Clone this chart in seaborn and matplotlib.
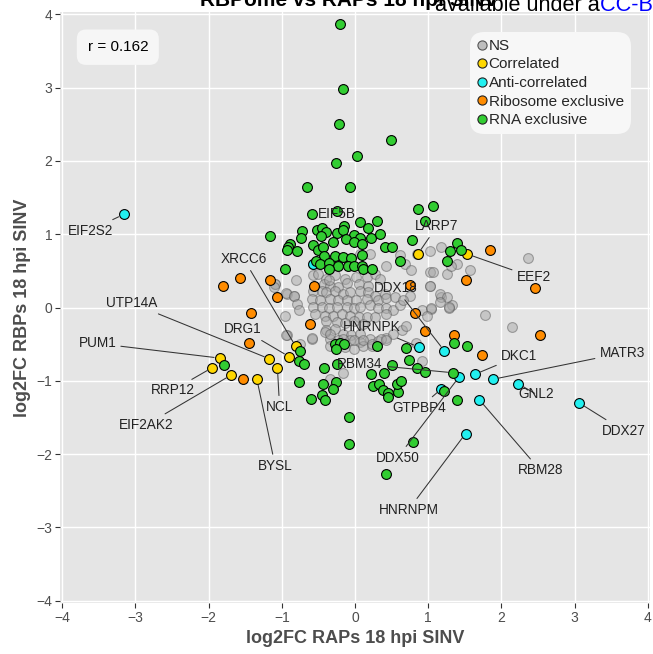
import matplotlib
matplotlib.use("Agg")
import matplotlib.pyplot as plt
import seaborn as sns
import pandas as pd
from matplotlib.lines import Line2D

# ---------------- data ----------------
categories = ["NS", "Correlated", "Anti-correlated", "Ribosome exclusive", "RNA exclusive"]
cat_colors = ["#B4B4B4", "#FFD700", "#22F0F0", "#FF8C00", "#32CD32"]

ns_x = [1.02, 0.61, 0.85,
        -0.57, -0.43, -0.25, 0.07, 0.20, 0.43, 0.68, 0.77, 1.02, 1.07, 1.39, 1.25,
        -0.57, -0.50, -0.39, -0.27, -0.14, 0.02, 0.16, 0.27, 0.34, -0.43, -0.34, -0.23, -0.11, 0.05, 0.18, -0.36,
        -0.57, -0.45, -0.39, -0.27, -0.16, -0.07, 0.07, 0.18, 0.27, 0.41, -0.59, -0.48, -0.34, -0.23, -0.11, 0.02,
        0.16, 0.32, 0.43, 0.54, 0.75, 1.02, 1.18, 1.32,
        -0.93, -0.84, -1.09, -0.57, -0.45, -0.36, -0.25, -0.11, -0.02, 0.07, 0.20, 0.32, 0.43, 0.52, 0.61, 0.66,
        1.04, 1.29,
        -0.95, -0.54, -0.41, -0.30, -0.18, -0.07, 0.05, 0.16, 0.27, -0.39, -0.25, -0.14, -0.02, 0.11, 0.43,
        -0.93, -0.59, -0.39, -0.27, -0.16, -0.05, 0.07, -0.34, -0.23, -0.07, 0.07, 0.20, 0.32, 0.43, 0.52, 0.64,
        -0.14, -0.02, 0.11, 0.23, -0.34, -0.75,
        2.37, 1.78, 2.14, 1.57, 1.17, 1.31, 1.02, 1.16, 1.25, 1.16, 1.29, 0.92, 1.04, 0.98, 0.69, 0.91, 0.84,
        -1.09, -1.11, -0.94, -0.83, -0.94, -0.80, -0.79, -0.77,
        -0.59, -0.41, -0.34, -0.16, -0.02, 0.11, 0.23, 0.36, 0.43, -0.17, -0.34]
ns_y = [0.77, 0.72, 0.73,
        0.60, 0.61, 0.62, 0.73, 0.73, 0.57, 0.60, 0.51, 0.48, 0.48, 0.60, 0.46,
        0.44, 0.46, 0.39, 0.44, 0.39, 0.41, 0.42, 0.46, 0.39, 0.32, 0.30, 0.28, 0.34, 0.32, 0.30, 0.37,
        0.23, 0.23, 0.21, 0.22, 0.19, 0.21, 0.22, 0.21, 0.16, 0.19, 0.12, 0.10, 0.12, 0.10, 0.10, 0.10,
        0.12, 0.10, 0.13, 0.14, 0.16, 0.30, 0.14, 0.03,
        0.19, 0.16, 0.32, 0.01, 0.01, 0.00, 0.01, 0.01, 0.00, 0.01, 0.03, 0.00, 0.00, -0.04, 0.03, 0.10,
        -0.02, 0.00,
        -0.11, -0.09, -0.11, -0.12, -0.09, -0.11, -0.13, -0.13, -0.13, -0.18, -0.20, -0.21, -0.18, -0.22, -0.09,
        -0.38, -0.43, -0.31, -0.29, -0.36, -0.38, -0.36, -0.43, -0.45, -0.45, -0.47, -0.43, -0.46, -0.41, -0.36, -0.31,
        -0.54, -0.56, -0.52, -0.53, -0.52, -0.50,
        0.67, -0.10, -0.26, 0.51, 0.82, 0.56, 0.29, 0.18, 0.14, 0.07, 0.01, -0.04, -0.01, -0.12, -0.25, -0.73, -0.49,
        0.32, 0.28, 0.20, 0.16, -0.38, 0.37, 0.05, -0.04,
        -0.41, -0.34, -0.36, -0.43, -0.45, -0.45, -0.50, -0.43, -0.45, -0.89, -0.98]

cor_genes = ["PUM1", "RRP12", "EIF2AK2", "BYSL", "UTP14A", "NCL", "DRG1", "XRCC6", "LARP7", "EEF2"]
cor_x = [-1.85, -1.95, -1.69, -1.34, -1.17, -1.06, -0.90, -0.81, 0.86, 1.53]
cor_y = [-0.69, -0.82, -0.92, -0.98, -0.70, -0.82, -0.67, -0.53, 0.73, 0.73]

anti_genes = ["EIF2S2", "HNRNPK", "DDX18", "DKC1", "MATR3", "GNL2", "DDX27", "RBM28", "HNRNPM", "DDX50", "GTPBP4", ""]
anti_x = [-3.16, 0.87, 1.22, 1.64, 1.88, 2.23, 3.06, 1.70, 1.51, 1.42, 1.18, -0.57]
anti_y = [1.27, -0.54, -0.59, -0.91, -0.98, -1.04, -1.30, -1.26, -1.72, -0.95, -1.11, 0.60]

ribo_x = [-1.80, -1.57, -1.16, -1.07, -1.42, -1.45, -1.53, -0.56, -0.62, 0.75, 0.82, 0.96, 1.35,
          1.85, 1.51, 2.46, 2.53, 1.73]
ribo_y = [0.29, 0.40, 0.38, 0.15, -0.07, -0.48, -0.98, 0.29, -0.23, 0.31, -0.07, -0.32, -0.38,
          0.78, 0.38, 0.26, -0.37, -0.65]

rna_x = [-0.24, 1.34,
         -0.20, -0.16, -0.22, 0.49, 0.03, -0.26, -0.65, -0.07,
         0.86, 1.07, 0.96, -1.16, -0.59, 0.30, 0.07, 0.18, -0.15, -0.73, -0.52, -0.45, -0.39, -0.25, -0.17,
         -0.74, -0.46, -0.01, 0.07, 0.22, 0.34, -0.12, -0.30, 0.78, -0.89, -0.57, -0.02, 0.09, 0.41, 0.51, 1.39,
         -0.91, -0.93, -0.79, -0.50, -0.44, 1.30, 1.45, 1.26,
         -0.42, -0.27, -0.16, -0.05, 0.09, 0.62, -0.53, -0.48, -0.35, -0.23, -0.09, -0.02, 0.09, 0.11, 0.23,
         -0.35, -0.96,
         -0.75, -0.27, -0.20, -0.15, -0.26, 0.30, 0.69, 1.35, 1.53,
         -0.77, -0.69, -1.79, -0.76, -0.42, -0.44, -0.26, -0.30, -0.45, -0.41, -0.60, -0.24, -0.08, -0.08,
         0.43, 0.79, 0.22, 0.39, 0.50, 0.24, 0.33, 0.38, 0.45, 0.45, 0.59, 0.57, 0.63, 0.74, 0.85, 0.96,
         1.22, 1.40]
rna_y = [1.31, -0.89,
         3.86, 2.98, 2.50, 2.29, 2.06, 1.97, 1.64, 1.64,
         1.34, 1.38, 1.18, 0.98, 1.28, 1.18, 1.16, 1.09, 1.11, 1.05, 1.06, 1.08, 1.03, 1.02, 1.06,
         0.95, 0.98, 0.99, 0.95, 0.95, 1.00, 0.93, 0.90, 0.92, 0.87, 0.85, 0.89, 0.87, 0.83, 0.82, 0.88,
         0.83, 0.78, 0.77, 0.79, 0.82, 0.77, 0.78, 0.63,
         0.70, 0.70, 0.69, 0.67, 0.71, 0.63, 0.64, 0.60, 0.61, 0.56, 0.57, 0.57, 0.57, 0.52, 0.52,
         0.53, 0.52,
         -0.60, -0.50, -0.49, -0.50, -0.57, -0.53, -0.55, -0.49, -0.53,
         -0.73, -0.77, -0.79, -1.01, -0.82, -1.04, -1.01, -1.11, -1.20, -1.26, -1.25, -0.77, -1.49, -1.86,
         -2.27, -1.83, -0.91, -0.89, -0.78, -1.07, -1.05, -1.12, -1.16, -1.22, -1.15, -1.05, -1.00, -0.72, -0.82, -0.88,
         -1.14, -1.26]
rna_genes = ["EIF5B", "RBM34"] + [""] * (len(rna_x) - 2)

r_text = "r = 0.162"
title_text = "RBPome vs RAPs 18 hpi SINV"
x_label = "log2FC RAPs 18 hpi SINV"
y_label = "log2FC RBPs 18 hpi SINV"
ticks = [-4, -3, -2, -1, 0, 1, 2, 3, 4]

# label text placement (layout, data coordinates)
label_layout = {
    "EIF2S2": (-3.62, 1.05), "PUM1": (-3.52, -0.49), "RRP12": (-2.49, -1.13),
    "EIF2AK2": (-2.85, -1.60), "UTP14A": (-3.05, 0.06), "DRG1": (-1.53, -0.30),
    "XRCC6": (-1.52, 0.66), "NCL": (-1.03, -1.36), "BYSL": (-1.09, -2.16),
    "EIF5B": (-0.25, 1.28), "LARP7": (1.12, 1.11), "EEF2": (2.44, 0.41),
    "DDX18": (0.56, 0.26), "HNRNPK": (0.23, -0.27), "RBM34": (0.07, -0.77),
    "GTPBP4": (0.88, -1.37), "DDX50": (0.58, -2.05), "HNRNPM": (0.73, -2.76),
    "RBM28": (2.53, -2.22), "DKC1": (2.24, -0.66), "MATR3": (3.65, -0.62),
    "GNL2": (2.47, -1.18), "DDX27": (3.67, -1.68),
}
no_segment = {"EIF5B"}

# ---------------- build frame ----------------
frames = []
frames.append(pd.DataFrame({"x": ns_x, "y": ns_y, "gene": [""] * len(ns_x), "cat": "NS"}))
frames.append(pd.DataFrame({"x": cor_x, "y": cor_y, "gene": cor_genes, "cat": "Correlated"}))
frames.append(pd.DataFrame({"x": anti_x, "y": anti_y, "gene": anti_genes, "cat": "Anti-correlated"}))
frames.append(pd.DataFrame({"x": ribo_x, "y": ribo_y, "gene": [""] * len(ribo_x), "cat": "Ribosome exclusive"}))
frames.append(pd.DataFrame({"x": rna_x, "y": rna_y, "gene": rna_genes, "cat": "RNA exclusive"}))
df = pd.concat(frames, ignore_index=True)

# ---------------- plot ----------------
sns.set_theme(style="darkgrid")
plt.rcParams["font.family"] = ["Liberation Sans", "DejaVu Sans"]

fig = plt.figure(figsize=(6.53, 6.54), dpi=100)
ax = fig.add_axes([60 / 653, 1 - 603 / 654, 590 / 653, 591 / 654])
ax.set_facecolor("#E5E5E5")

pal = dict(zip(categories, cat_colors))
for cat in categories:
    sub = df[df["cat"] == cat]
    if cat == "NS":
        sns.scatterplot(data=sub, x="x", y="y", ax=ax, color="#A8A8A8", s=50,
                        edgecolor="#5A5A5A", linewidth=0.8, alpha=0.5, legend=False, zorder=2)
    else:
        sns.scatterplot(data=sub, x="x", y="y", ax=ax, color=pal[cat], s=50,
                        edgecolor="black", linewidth=0.8, legend=False, zorder=3)

# labels
for _, row in df[df["gene"] != ""].iterrows():
    tx, ty = label_layout[row["gene"]]
    if row["gene"] in no_segment:
        ax.text(tx, ty, row["gene"], ha="center", va="center", fontsize=9.8,
                color="#222222", zorder=5)
    else:
        ax.annotate(row["gene"], xy=(row["x"], row["y"]), xytext=(tx, ty),
                    ha="center", va="center", fontsize=9.8, color="#222222", zorder=5,
                    arrowprops=dict(arrowstyle="-", color="#333333", lw=0.75,
                                    shrinkA=1, shrinkB=4))

ax.set_xlim(-4.03, 4.03)
ax.set_ylim(-4.03, 4.03)
ax.set_xticks(ticks)
ax.set_yticks(ticks)
ax.grid(True, color="white", linewidth=1.0)
ax.set_axisbelow(True)
for sp in ax.spines.values():
    sp.set_visible(False)
ax.tick_params(axis="both", which="both", length=3.5, width=0.8, color="#333333",
               labelcolor="#4D4D4D", labelsize=10, pad=2, direction="out",
               bottom=True, left=True)
ax.set_xlabel(x_label, fontsize=13, fontweight="bold", color="#4D4D4D", labelpad=4)
ax.set_ylabel(y_label, fontsize=13, fontweight="bold", color="#4D4D4D", labelpad=4)

# r box
ax.text(-3.24, 3.55, r_text, ha="center", va="center", fontsize=11, color="black", zorder=6,
        bbox=dict(boxstyle="round,pad=0.7,rounding_size=0.6", facecolor="#F6F6F6",
                  edgecolor="none"))

# legend
handles = []
for cat in categories:
    if cat == "NS":
        handles.append(Line2D([], [], marker="o", ls="", markerfacecolor="#BEBEBE",
                              markeredgecolor="#555555", markersize=6.6, markeredgewidth=0.8))
    else:
        handles.append(Line2D([], [], marker="o", ls="", markerfacecolor=pal[cat],
                              markeredgecolor="#222222", markersize=6.6, markeredgewidth=0.8))
leg = ax.legend(handles, categories, loc="upper left",
                bbox_to_anchor=((470 - 60) / 590, (603 - 32) / 591),
                fontsize=11, handlelength=0.65, handletextpad=0.12, labelspacing=0.3,
                borderpad=0.45, borderaxespad=0, frameon=True, fancybox=True)
frame = leg.get_frame()
frame.set_facecolor("#F7F7F7")
frame.set_edgecolor("none")
frame.set_alpha(1)
frame.set_boxstyle("round,pad=0,rounding_size=0.9")
leg.set_zorder(6)

# title (cropped at top) and overlapping page watermark
fig.text(200 / 653, 1 - 5.5 / 654, title_text, ha="left", va="baseline",
         fontsize=15, fontweight="bold", color="black")
fig.text(435 / 653, 1 - 11 / 654, "available under a", ha="left", va="baseline",
         fontsize=15.6, color="black")
fig.text(600 / 653, 1 - 11 / 654, "CC-BY 4.0 International license", ha="left",
         va="baseline", fontsize=15.6, color="#0000FF")

fig.savefig("out.png", dpi=100)
